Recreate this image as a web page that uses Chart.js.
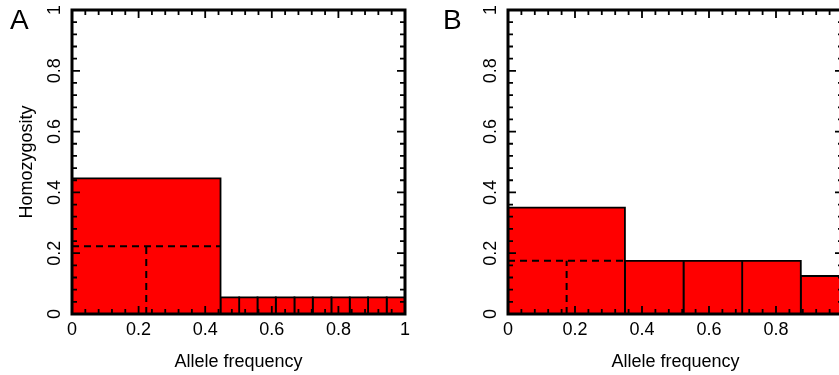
<!DOCTYPE html>
<html>
<head>
<meta charset="utf-8">
<script src="https://cdn.jsdelivr.net/npm/chart.js@4"></script>
<style>
  body { margin: 0; background: #fff; overflow: hidden; }
  #wrap { position: relative; width: 839px; height: 375px; overflow: hidden; }
  canvas { position: absolute; top: 0; }
  .tag { position: absolute; top: 6px; font: 28px/1 "Liberation Sans", Arial, sans-serif; color: #000; }
</style>
</head>
<body>
<div id="wrap">
  <canvas id="chartA" width="420" height="375" style="left:0"></canvas>
  <canvas id="chartB" width="430" height="375" style="left:420px"></canvas>
  <div class="tag" style="left:10px">A</div>
  <div class="tag" style="left:443px">B</div>
</div>
<script>
// axis ticks (shared by both panels)
var tickValues = [0, 0.2, 0.4, 0.6, 0.8, 1];
var tickLabels = ['0', '0.2', '0.4', '0.6', '0.8', '1'];
var minorStep = 0.04;

// panel A: bar edges along allele frequency, bar heights (homozygosity)
var edgesA = [0, 0.446, 0.502, 0.557, 0.612, 0.668, 0.723, 0.779, 0.834, 0.889, 0.945, 1];
var heightsA = [0.446, 0.055, 0.055, 0.055, 0.055, 0.055, 0.055, 0.055, 0.055, 0.055, 0.055];
var dashA = [0.223, 0.223]; // x, y of the dashed guide

// panel B
var edgesB = [0, 0.349, 0.524, 0.699, 0.874, 1];
var heightsB = [0.350, 0.175, 0.175, 0.175, 0.125];
var dashB = [0.175, 0.175];

Chart.defaults.font.family = '"Liberation Sans", Arial, sans-serif';
Chart.defaults.font.size = 18;
Chart.defaults.color = '#000';

// inward ticks on all four sides plus the heavy frame
var frameTicks = {
  id: 'frameTicks',
  afterDatasetsDraw: function(chart) {
    var ctx = chart.ctx, a = chart.chartArea;
    var x = chart.scales.x, y = chart.scales.y;
    var n = Math.round(1 / minorStep);
    ctx.save();
    ctx.strokeStyle = '#000';
    ctx.lineWidth = 1.8;
    ctx.beginPath();
    for (var i = 0; i <= n; i++) {
      var len = i % 5 === 0 ? 8 : 5;
      var px = x.getPixelForValue(i * minorStep);
      var py = y.getPixelForValue(i * minorStep);
      ctx.moveTo(px, a.bottom); ctx.lineTo(px, a.bottom - len);
      ctx.moveTo(px, a.top);    ctx.lineTo(px, a.top + len);
      ctx.moveTo(a.left, py);   ctx.lineTo(a.left + len, py);
      ctx.moveTo(a.right, py);  ctx.lineTo(a.right - len, py);
    }
    ctx.stroke();
    ctx.lineWidth = 3;
    ctx.strokeRect(a.left, a.top, a.right - a.left, a.bottom - a.top);
    ctx.restore();
  }
};

function makePanel(id, edges, heights, dash, axisWidth, rightPad, showYTitle) {
  var datasets = [];
  // dashed guides first so they sit on top
  datasets.push({
    data: [{x: 0, y: dash[1]}, {x: edges[1], y: dash[1]}],
    borderColor: '#000', borderWidth: 2, borderDash: [7, 5], fill: false
  });
  datasets.push({
    data: [{x: dash[0], y: 0}, {x: dash[0], y: dash[1]}],
    borderColor: '#000', borderWidth: 2, borderDash: [7, 5], fill: false
  });
  for (var i = 0; i < heights.length; i++) {
    datasets.push({
      data: [
        {x: edges[i], y: 0}, {x: edges[i], y: heights[i]},
        {x: edges[i + 1], y: heights[i]}, {x: edges[i + 1], y: 0}
      ],
      borderColor: '#000',
      borderWidth: 1.8,
      backgroundColor: '#ff0000',
      fill: 'origin'
    });
  }

  function setTicks(scale) {
    scale.ticks = tickValues.map(function(v) { return {value: v}; });
  }
  function label(value, index) { return tickLabels[index]; }

  return new Chart(document.getElementById(id).getContext('2d'), {
    type: 'line',
    data: {datasets: datasets},
    options: {
      responsive: false,
      animation: false,
      devicePixelRatio: 1,
      layout: {padding: {top: 10, right: rightPad, left: 0, bottom: 0}},
      elements: {point: {radius: 0}, line: {tension: 0}},
      plugins: {legend: {display: false}, tooltip: {enabled: false}},
      scales: {
        x: {
          type: 'linear', min: 0, max: 1,
          grid: {display: false, drawTicks: false}, border: {display: false},
          afterBuildTicks: setTicks,
          afterFit: function(s) { s.height = 61; s.paddingLeft = 0; s.paddingRight = 0; },
          ticks: {padding: 5, maxRotation: 0, callback: label},
          title: {display: true, text: 'Allele frequency', padding: {top: 0, bottom: 2}}
        },
        y: {
          type: 'linear', min: 0, max: 1,
          grid: {display: false, drawTicks: false}, border: {display: false},
          afterBuildTicks: setTicks,
          afterFit: function(s) { s.width = axisWidth; s.paddingTop = 0; s.paddingBottom = 0; },
          ticks: {padding: 4.5, minRotation: 90, maxRotation: 90, crossAlign: 'center', callback: label},
          title: {display: showYTitle, text: 'Homozygosity', padding: {top: 16, bottom: 0}}
        }
      }
    },
    plugins: [frameTicks]
  });
}

var chartA = makePanel('chartA', edgesA, heightsA, dashA, 72, 15, true);
var chartB = makePanel('chartB', edgesB, heightsB, dashB, 88, 7, false);
</script>
</body>
</html>
